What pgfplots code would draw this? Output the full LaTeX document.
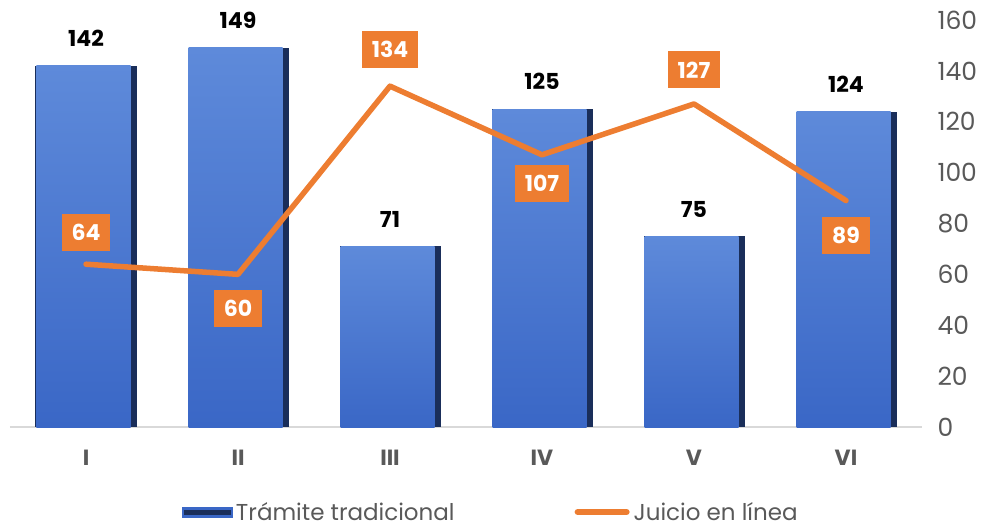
\documentclass[border=0pt]{standalone}
\usepackage{pgfplots}
\pgfplotsset{compat=1.18}
\usepackage{pgfplotstable}
\usepackage{fontspec}
\setmainfont{Poppins}
\definecolor{bart}{HTML}{5E8ADA}
\definecolor{barb}{HTML}{3A67C6}
\definecolor{bard}{HTML}{1A2E5A}
\definecolor{orng}{HTML}{ED7D31}
\definecolor{tgray}{HTML}{595959}
\definecolor{agray}{HTML}{D9D9D9}

\pgfplotstableread{
x y off
0 64 31.5
1 60 -34
2 134 37
3 107 -28.5
4 127 34
5 89 -35
}\linedata

\newcommand\onebar[2]{%
  \addplot[basebar, forget plot] coordinates {(#1,#2)};
  \addplot[mainbar, forget plot] coordinates {(#1,#2)};
}

\begin{document}
\begin{tikzpicture}[x=1pt,y=1pt]
\path[use as bounding box] (-10,-100) rectangle (977,427);
\begin{axis}[
  at={(0pt,0pt)}, anchor=south west,
  scale only axis, width=912pt, height=407pt,
  xmin=-0.5, xmax=5.5, ymin=0, ymax=160,
  axis x line*=bottom, axis y line*=right,
  x axis line style={draw=agray, line width=1.2pt},
  y axis line style={draw=none},
  major tick length=0pt,
  xtick={0,1,2,3,4,5},
  xticklabels={I,II,III,IV,V,VI},
  xticklabel style={font=\fontsize{22}{24}\selectfont\bfseries, text=tgray, yshift=-20pt},
  ytick={0,20,...,160},
  yticklabel style={font=\fontsize{25}{28}\selectfont, text=tgray, anchor=west, xshift=12pt},
  /pgf/number format/assume math mode=true,
  clip=false,
  legend columns=2,
  legend style={draw=none, fill=none, at={(0.527,-0.209)}, anchor=center,
    font=\fontsize{23}{26}\selectfont, text=tgray,
    /tikz/every even column/.append style={column sep=118pt},
    /tikz/every odd column/.append style={column sep=2pt}},
  basebar/.style={ybar, bar width=101pt, draw=none, fill=bard,
    nodes near coords,
    every node near coord/.append style={font=\fontsize{22}{24}\selectfont\bfseries, text=black, anchor=south, inner sep=0pt, yshift=19pt}},
  mainbar/.style={ybar, bar width=94pt, bar shift=-2.5pt, draw=none, top color=bart, bottom color=barb},
]
\addlegendimage{legend image code/.code={\fill[barb] (0pt,-5pt) rectangle (50pt,5pt); \fill[bard] (2pt,-2pt) rectangle (48pt,2pt);}}
\addlegendentry{Trámite tradicional}
\onebar{0}{142}
\onebar{1}{149}
\onebar{2}{71}
\onebar{3}{125}
\onebar{4}{75}
\onebar{5}{124}
\addplot[orng, line width=5.5pt, line cap=round, line join=round, mark=none,
  nodes near coords,
  visualization depends on={\thisrow{off}\as\myoff},
  every node near coord/.append style={font=\fontsize{22}{24}\selectfont\bfseries, text=white, fill=orng, anchor=center, inner xsep=10pt, inner ysep=0pt, minimum height=37pt, minimum width=43pt, yshift=\myoff pt},
  legend image code/.code={\draw[orng, line width=6pt, line cap=round] (3pt,0pt) -- (52pt,0pt);}
] table[x=x,y=y] {\linedata};
\addlegendentry{Juicio en línea}
\end{axis}
\end{tikzpicture}
\end{document}
